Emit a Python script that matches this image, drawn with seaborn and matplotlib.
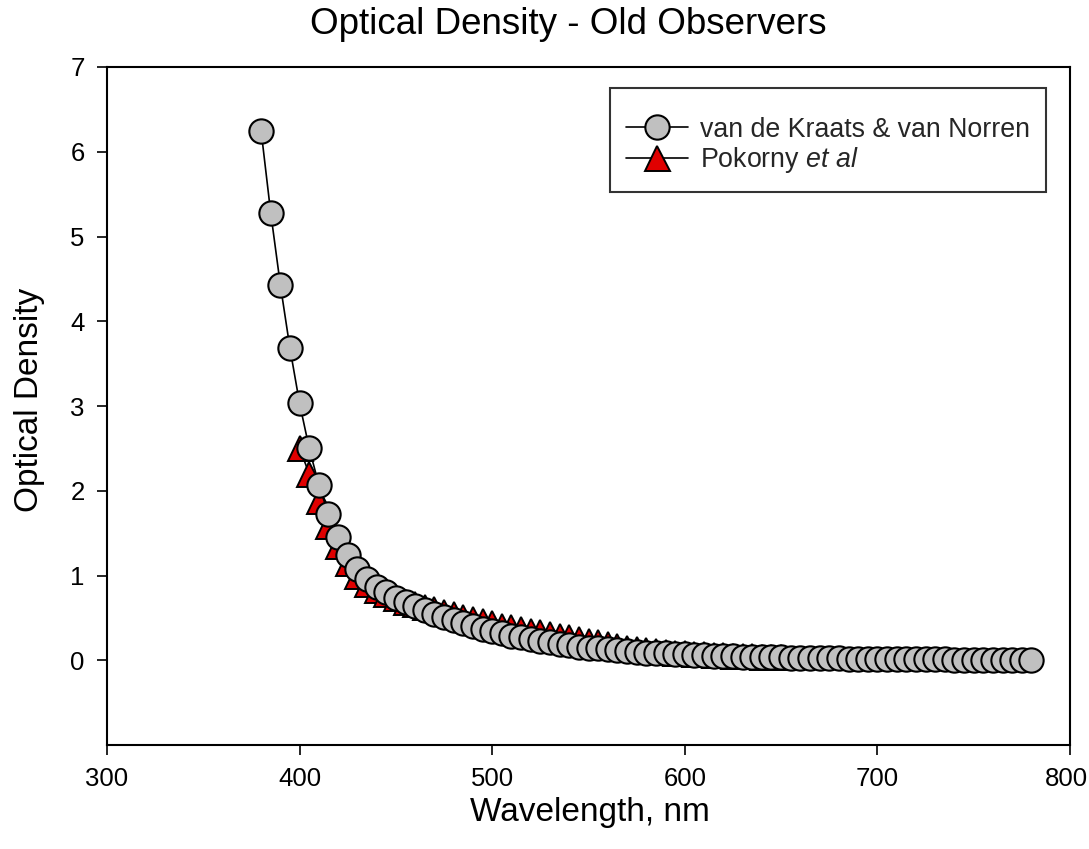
import numpy as np
import pandas as pd
import matplotlib
matplotlib.use("Agg")
import matplotlib.pyplot as plt
import matplotlib.transforms as mtransforms
import seaborn as sns

# ---- data ----
vdk_wavelength = list(range(380, 781, 5))
vdk_density = [6.25, 5.28, 4.43, 3.68, 3.03, 2.50, 2.07, 1.72, 1.45, 1.24,
               1.08, 0.96, 0.87, 0.80, 0.74, 0.69, 0.64, 0.59, 0.55, 0.51,
               0.47, 0.44, 0.40, 0.37, 0.34, 0.32, 0.29, 0.27, 0.25, 0.23,
               0.21, 0.19, 0.18, 0.16, 0.15, 0.14, 0.13, 0.12, 0.11, 0.10,
               0.09, 0.085, 0.08, 0.075, 0.07, 0.065, 0.06, 0.055, 0.05, 0.047,
               0.044, 0.041, 0.038, 0.035, 0.033, 0.031, 0.029, 0.027, 0.025, 0.023,
               0.021, 0.019, 0.018, 0.017, 0.016, 0.015, 0.014, 0.013, 0.012, 0.011,
               0.010, 0.009, 0.008, 0.007, 0.006, 0.005, 0.004, 0.003, 0.002, 0.001,
               0.000]

pok_wavelength = list(range(400, 651, 5))
pok_density = [2.50, 2.20, 1.88, 1.58, 1.35, 1.15, 1.00, 0.90, 0.83, 0.78,
               0.73, 0.69, 0.66, 0.63, 0.60, 0.57, 0.54, 0.51, 0.49, 0.46,
               0.44, 0.41, 0.39, 0.37, 0.35, 0.33, 0.31, 0.29, 0.27, 0.25,
               0.23, 0.21, 0.19, 0.17, 0.15, 0.13, 0.12, 0.11, 0.10, 0.09,
               0.08, 0.075, 0.07, 0.065, 0.06, 0.055, 0.05, 0.046, 0.042, 0.038,
               0.035]

x_ticks = [300, 400, 500, 600, 700, 800]
y_ticks = [0, 1, 2, 3, 4, 5, 6, 7]

title = "Optical Density - Old Observers"
x_label = "Wavelength, nm"
y_label = "Optical Density"
vdk_label = "van de Kraats & van Norren"
pok_label = r"Pokorny $\it{et\ al}$"

# ---- style ----
sns.set_theme(style="ticks")
plt.rcParams["font.family"] = ["Liberation Sans", "DejaVu Sans"]
plt.rcParams["mathtext.fontset"] = "custom"
plt.rcParams["mathtext.rm"] = "Liberation Sans"
plt.rcParams["mathtext.it"] = "Liberation Sans:italic"

fig = plt.figure(figsize=(10.89, 8.49), dpi=100)
ax = fig.add_axes([107 / 1089, 1 - 745 / 849, (1070 - 107) / 1089, (745 - 67) / 849])

vdk_df = pd.DataFrame({"wl": vdk_wavelength, "od": vdk_density})
pok_df = pd.DataFrame({"wl": pok_wavelength, "od": pok_density})

sns.lineplot(data=pok_df, x="wl", y="od", ax=ax, color="black", linewidth=1.2,
             marker="^", markersize=18, markerfacecolor="#e00000",
             markeredgecolor="black", markeredgewidth=1.4, zorder=2,
             label=pok_label)
sns.lineplot(data=vdk_df, x="wl", y="od", ax=ax, color="black", linewidth=1.2,
             marker="o", markersize=17.5, markerfacecolor="#c0c0c0",
             markeredgecolor="black", markeredgewidth=1.5, zorder=3,
             label=vdk_label)

ax.set_xlim(300, 800)
ax.set_ylim(-1, 7)
ax.set_xticks(x_ticks)
ax.set_yticks(y_ticks)
ax.tick_params(direction="out", length=7, width=1.2, labelsize=18.5, colors="black", pad=9)
for s in ax.spines.values():
    s.set_color("black")
    s.set_linewidth(1.5)
ax.set_xlabel("")
ax.set_ylabel("")

# keep the right-most tick label inside the canvas
last = ax.get_xticklabels()[-1]
last.set_transform(last.get_transform() +
                   mtransforms.ScaledTranslation(-4 / 100, 0, fig.dpi_scale_trans))

fig.text(568 / 1089, 1 - 24 / 849, title, ha="center", va="center",
         fontsize=26.5, color="black")
fig.text(590 / 1089, 1 - 812 / 849, x_label, ha="center", va="center", fontsize=24, color="black")
fig.text(30 / 1089, 1 - 400 / 849, y_label, ha="center", va="center", rotation=90,
         fontsize=24, color="black")

handles, labels = ax.get_legend_handles_labels()
leg = ax.legend(handles[::-1], labels[::-1], loc="upper right",
                bbox_to_anchor=(1 - (1070 - 1046) / 963, 1 - (88 - 67) / 678),
                frameon=True, fancybox=False, title=" ", title_fontsize=8,
                edgecolor="black", fontsize=19.3, handlelength=2.3, borderpad=0.6,
                labelspacing=0.1, handletextpad=0.45, borderaxespad=0)
leg.get_frame().set_linewidth(1.5)

fig.savefig("out.png", dpi=100)
